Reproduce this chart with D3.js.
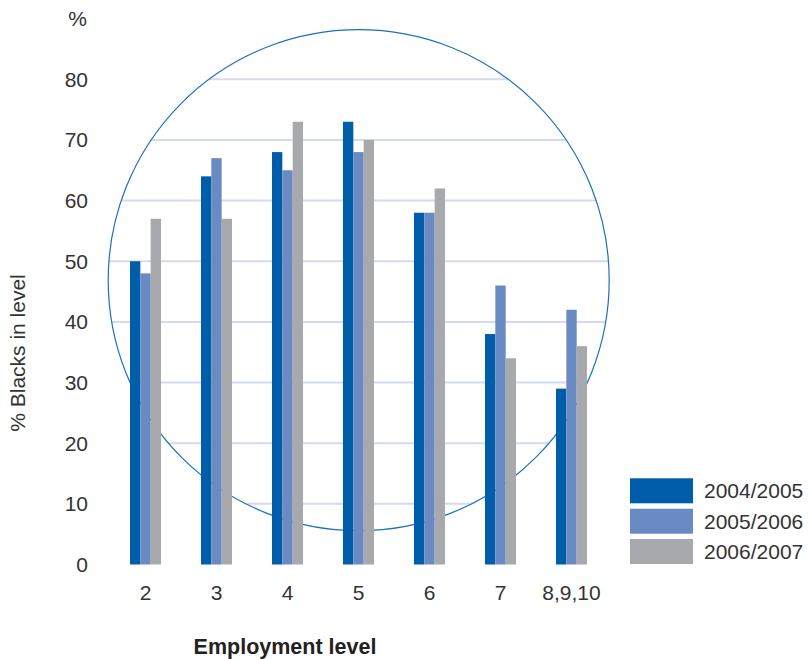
<!DOCTYPE html>
<html><head><meta charset="utf-8">
<script src="https://cdn.jsdelivr.net/npm/d3@7"></script>
<style>body{margin:0;background:#fff}</style>
</head><body>
<script>
const categories = ["2","3","4","5","6","7","8,9,10"];
const seriesNames = ["2004/2005","2005/2006","2006/2007"];
const s2004 = [50,64,68,73,58,38,29];
const s2005 = [48,67,65,68,58,46,42];
const s2006 = [57,57,73,70,62,34,36];
const yTicks = [0,10,20,30,40,50,60,70,80];
const colors = ["#005da9","#6a8ac4","#a7a9ac"];
const seriesValues = [s2004, s2005, s2006];

const W = 809, H = 659;
const svg = d3.select("body").append("svg").attr("width", W).attr("height", H);
const font = "'Liberation Sans', Arial, sans-serif";
const textCol = "#333";
const fs = 21;

const x = d3.scaleBand().domain(categories).range([90, 627]).padding(0.563);
const xs = d3.scaleBand().domain(seriesNames).range([0, x.bandwidth()]);
const y = d3.scaleLinear().domain([0, 80]).range([564.5, 79.3]);

// circle & clip
const cx = 358.7, cy = 280.2, r = 250.5;
svg.append("clipPath").attr("id","circ").append("circle").attr("cx",cx).attr("cy",cy).attr("r",r);

svg.append("g").attr("clip-path","url(#circ)")
  .selectAll("line").data(yTicks.filter(d=>d>0)).join("line")
  .attr("x1", 90).attr("x2", 627)
  .attr("y1", d=>y(d)).attr("y2", d=>y(d))
  .attr("stroke", "#d5daef").attr("stroke-width", 2);

svg.append("circle").attr("cx",cx).attr("cy",cy).attr("r",r)
  .attr("fill","none").attr("stroke","#1f6fbf").attr("stroke-width",1.2);

// bars
const groups = svg.append("g").selectAll("g").data(categories).join("g")
  .attr("transform", d=>`translate(${x(d)},0)`);
groups.selectAll("rect").data((d,i)=>seriesNames.map((s,k)=>({s, k, v: seriesValues[k][i]})))
  .join("rect")
  .attr("x", d=>xs(d.s)).attr("width", xs.bandwidth())
  .attr("y", d=>y(d.v)).attr("height", d=>y(0)-y(d.v))
  .attr("fill", d=>colors[d.k]);

// y axis labels
const yAxis = d3.axisLeft(y).tickValues(yTicks).tickSize(0).tickPadding(0);
const gy = svg.append("g").attr("transform","translate(88,0)").call(yAxis);
gy.select(".domain").remove();
gy.selectAll("text").attr("font-family", font).attr("font-size", fs).attr("fill", textCol).attr("dy","0.33em");

svg.append("text").attr("x", 87).attr("y", 26).attr("text-anchor","end")
  .attr("font-family", font).attr("font-size", fs).attr("fill", textCol).text("%");

// x axis labels
const xAxis = d3.axisBottom(x).tickSize(0).tickPadding(0);
const gx = svg.append("g").attr("transform","translate(0,584)").call(xAxis);
gx.select(".domain").remove();
gx.selectAll("text").attr("font-family", font).attr("font-size", fs).attr("fill", textCol).attr("dy","0.75em");

// axis titles
svg.append("text").attr("transform","translate(25,353) rotate(-90)").attr("text-anchor","middle")
  .attr("font-family", font).attr("font-size", fs).attr("fill", textCol).text("% Blacks in level");
svg.append("text").attr("x", 285).attr("y", 654).attr("text-anchor","middle")
  .attr("font-family", font).attr("font-size", 21.5).attr("font-weight","bold").attr("fill", "#222").text("Employment level");

// legend
const legY = [478.3, 508.7, 539];
const leg = svg.append("g").selectAll("g").data(seriesNames).join("g")
  .attr("transform", (d,i)=>`translate(630,${legY[i]})`);
leg.append("rect").attr("width", 63).attr("height", 25).attr("fill", (d,i)=>colors[i]);
leg.append("text").attr("x", 74).attr("y", 12.5).attr("dy","0.35em")
  .attr("font-family", font).attr("font-size", fs).attr("fill", textCol).text(d=>d);
</script>
</body></html>
